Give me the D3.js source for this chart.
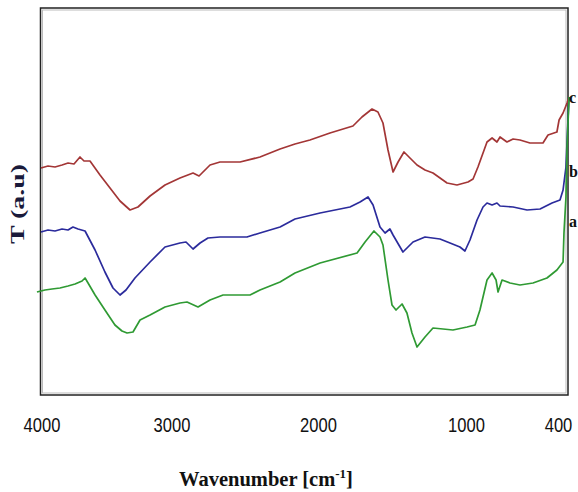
<!DOCTYPE html>
<html>
<head>
<meta charset="utf-8">
<script src="https://cdn.jsdelivr.net/npm/d3@7/dist/d3.min.js"></script>
<style>
  html, body { margin: 0; padding: 0; background: #fff; }
  svg { display: block; }
</style>
</head>
<body>
<svg id="chart" width="578" height="492"></svg>
<script>
// ---- data (wavenumber cm-1, transmittance in arbitrary units) ----
const tickLabels = [4000, 3000, 2000, 1000, 400];
const seriesNames = ["c", "b", "a"];
const seriesColors = ["#a33636", "#2b2b9c", "#2f9a33"];
const seriesLabelValues = [292, 218, 168];

const wnC = [4004,3950,3896,3842,3796,3750,3704,3673,3627,3550,3473,3396,3319,3258,3165,3050,2942,2853,2812,2737,2669,2532,2396,2259,2157,2055,1919,1764,1703,1635,1595,1561,1527,1493,1459,1419,1365,1331,1277,1223,1128,1061,987,954,922,863,830,798,778,733,693,648,583,498,465,407,393,367,341,328];
const tC  = [227,229,228,230,232,231,238,234,234,220,207,194,185,188,199,210,217,222,219,230,233,233,238,246,251,255,262,269,278,286,283,272,245,223,233,243,235,230,225,222,212,210,213,216,228,253,257,253,258,253,256,255,252,252,260,263,275,282,292,298];

const wnB = [4004,3950,3896,3842,3796,3758,3719,3665,3588,3512,3450,3396,3350,3281,3165,3050,2942,2901,2853,2805,2751,2669,2485,2396,2259,2157,1986,1784,1716,1662,1628,1581,1547,1514,1493,1426,1358,1277,1176,1108,1041,1007,974,928,889,863,830,798,778,693,602,517,439,387,367,348,335,328];
const tB  = [163,165,164,166,165,168,166,164,145,123,107,100,105,117,133,148,152,153,146,152,157,158,158,162,168,176,182,188,193,198,190,168,162,166,160,143,153,158,156,152,148,144,155,175,188,192,190,192,189,188,185,186,192,195,205,228,275,298];

const wnA = [4035,3973,3919,3858,3796,3742,3688,3665,3642,3588,3512,3435,3381,3342,3296,3242,3165,3050,2942,2894,2819,2737,2648,2464,2396,2259,2157,1986,1736,1682,1622,1581,1561,1527,1500,1473,1432,1399,1365,1331,1277,1223,1088,993,941,909,863,830,804,791,765,713,648,563,472,407,367,361,348,341,328];
const tA  = [103,105,106,107,109,111,114,117,112,100,85,70,64,62,63,75,80,88,92,93,88,95,100,100,105,113,122,132,142,153,164,158,150,115,90,85,91,82,62,48,58,67,65,68,70,85,115,122,115,103,115,112,110,112,117,125,133,162,198,248,298];

const xTitle = "Wavenumber [cm";
const xTitleSup = "-1";
const yTitle = "T (a.u)";

// ---- layout ----
const svg = d3.select("#chart");
const frame = { left: 40.5, right: 568, top: 8, bottom: 395 };

// x axis: piecewise linear to follow the original's label placement
const x = d3.scaleLinear()
  .domain(tickLabels)
  .range([41.5, 171.5, 318, 466, 558]);
const y = d3.scaleLinear().domain([0, 387]).range([frame.bottom, frame.top]);

// frame (double line like the original)
svg.append("rect")
  .attr("x", frame.left).attr("y", frame.top)
  .attr("width", frame.right - frame.left).attr("height", frame.bottom - frame.top)
  .attr("fill", "none").attr("stroke", "#222").attr("stroke-width", 1.5);
svg.append("rect")
  .attr("x", frame.left + 2).attr("y", frame.top + 2)
  .attr("width", frame.right - frame.left - 4).attr("height", frame.bottom - frame.top - 4)
  .attr("fill", "none").attr("stroke", "#bbb").attr("stroke-width", 1);

// series
const series = [
  { name: seriesNames[0], wn: wnC, t: tC, color: seriesColors[0] },
  { name: seriesNames[1], wn: wnB, t: tB, color: seriesColors[1] },
  { name: seriesNames[2], wn: wnA, t: tA, color: seriesColors[2] }
];
const line = d3.line().x(d => x(d[0])).y(d => y(d[1]));
series.forEach(s => {
  svg.append("path")
    .datum(s.wn.map((w, i) => [w, s.t[i]]))
    .attr("fill", "none")
    .attr("stroke", s.color)
    .attr("stroke-width", 1.7)
    .attr("stroke-linejoin", "round")
    .attr("d", line);
});

// series labels at the right edge
seriesNames.forEach((n, i) => {
  svg.append("text")
    .attr("x", 569).attr("y", y(seriesLabelValues[i]))
    .attr("font-family", "'Liberation Serif', 'Times New Roman', serif")
    .attr("font-weight", "bold").attr("font-size", 16)
    .attr("fill", "#111")
    .text(n);
});

// x axis labels (no tick marks)
const xAxis = d3.axisBottom(x).tickValues(tickLabels).tickSize(0).tickPadding(0)
  .tickFormat(d3.format("d"));
const gx = svg.append("g").attr("transform", "translate(0,432)").call(xAxis);
gx.select(".domain").remove();
gx.selectAll("text")
  .attr("dy", 0)
  .attr("font-family", "'Liberation Sans Narrow', 'Arial Narrow', 'Liberation Sans', Arial, sans-serif")
  .attr("font-size", 20)
  .attr("fill", "#111")
  .each(function(d) {
    const target = String(d).length * 9.2;
    const w = this.getComputedTextLength();
    if (Math.abs(w - target) > 2) {
      d3.select(this).attr("textLength", target).attr("lengthAdjust", "spacingAndGlyphs");
    }
  });

// x title
const xt = svg.append("text")
  .attr("x", 266).attr("y", 486)
  .attr("text-anchor", "middle")
  .attr("font-family", "'Liberation Serif', 'Times New Roman', serif")
  .attr("font-weight", "bold").attr("font-size", 20.5)
  .attr("fill", "#111");
xt.append("tspan").text(xTitle);
xt.append("tspan").attr("font-size", 13).attr("dy", -8).text(xTitleSup);
xt.append("tspan").attr("dy", 8).text("]");

// y title
svg.append("text")
  .attr("transform", "translate(24,204) rotate(-90)")
  .attr("text-anchor", "middle")
  .attr("font-family", "'Liberation Serif', 'Times New Roman', serif")
  .attr("font-weight", "bold").attr("font-size", 19)
  .attr("fill", "#1a1a3a")
  .attr("textLength", 80).attr("lengthAdjust", "spacingAndGlyphs")
  .text(yTitle);
</script>
</body>
</html>
